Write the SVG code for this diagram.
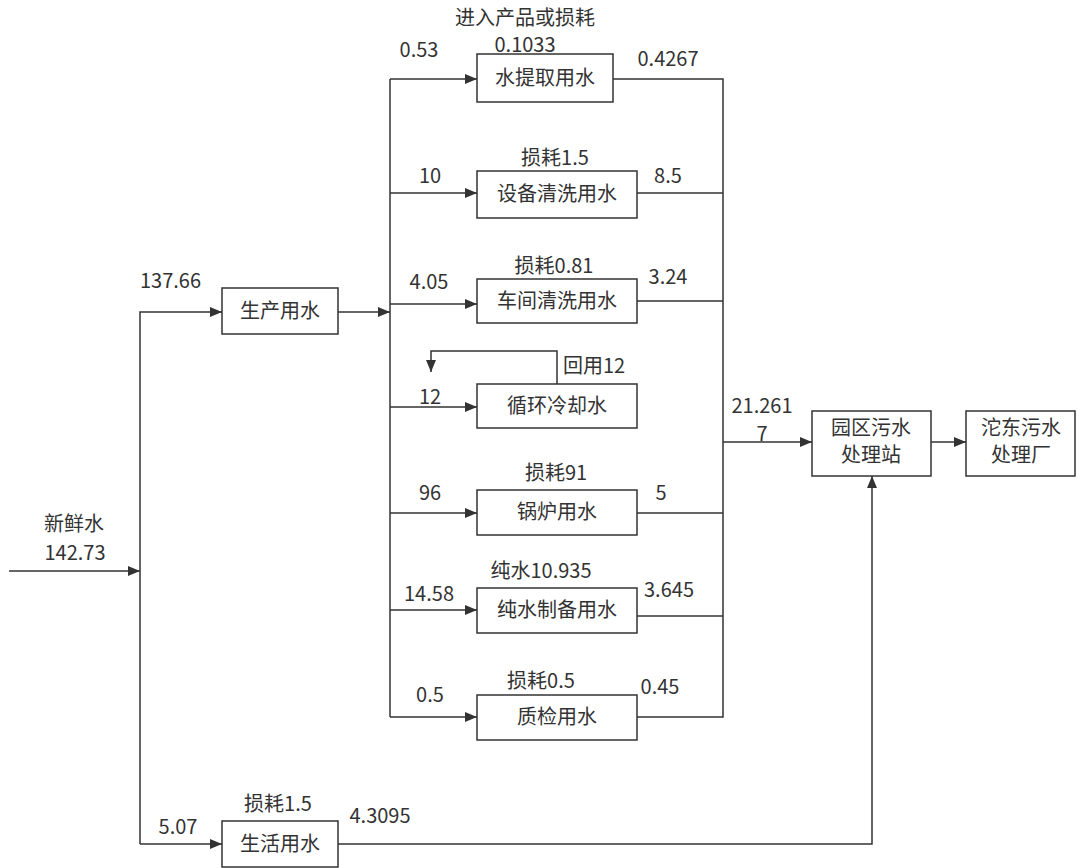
<svg xmlns="http://www.w3.org/2000/svg" width="1078" height="868" viewBox="0 0 1078 868">
<style>
text{font-family:"Noto Sans CJK SC","Noto Sans",sans-serif;font-size:20px;fill:#333;text-anchor:middle}
.l{text-anchor:start}
rect{fill:#fff;stroke:#333;stroke-width:1.5}
.c path,.c line{fill:none;stroke:#333;stroke-width:1.5}
</style>
<defs>
<marker id="a" markerUnits="userSpaceOnUse" markerWidth="12" markerHeight="10" refX="12" refY="5" orient="auto"><path d="M0,0 L12,5 L0,10 z" fill="#333"/></marker>
</defs>
<rect width="1078" height="868" fill="#fff" style="stroke:none"/>
<g class="c" id="connectors">
<path d="M9,571 H140" marker-end="url(#a)"/>
<path d="M140,844 V312 H222" marker-end="url(#a)"/>
<path d="M140,844 H222" marker-end="url(#a)"/>
<path d="M338,312 H390" marker-end="url(#a)"/>
<path d="M390,79 V717"/>
<path d="M390,79 H477" marker-end="url(#a)"/>
<path d="M390,193 H477" marker-end="url(#a)"/>
<path d="M390,304 H477" marker-end="url(#a)"/>
<path d="M390,407 H477" marker-end="url(#a)"/>
<path d="M390,513 H477" marker-end="url(#a)"/>
<path d="M390,610 H477" marker-end="url(#a)"/>
<path d="M390,717 H477" marker-end="url(#a)"/>
<path d="M557,384 V351 H431 V372" marker-end="url(#a)"/>
<path d="M613,79 H723 V717 H637"/>
<path d="M637,193 H723"/>
<path d="M637,301 H723"/>
<path d="M637,513 H723"/>
<path d="M637,616 H723"/>
<path d="M723,442 H812" marker-end="url(#a)"/>
<path d="M931,442 H966" marker-end="url(#a)"/>
<path d="M338,844 H872 V476" marker-end="url(#a)"/>
</g>
<g id="n-fresh"><text x="74" y="531">新鲜水</text><text x="75" y="560">142.73</text></g>
<g id="n-prod"><rect x="222" y="288" width="116" height="46"/><text x="280" y="318">生产用水</text><text class="l" x="140" y="288">137.66</text></g>
<g id="n-live"><rect x="222" y="821" width="116" height="46"/><text x="280" y="851">生活用水</text><text x="178" y="834">5.07</text><text x="278" y="811">损耗1.5</text><text x="380" y="823">4.3095</text></g>
<g id="n-extract"><rect x="477" y="54" width="136" height="48"/><text x="545" y="85">水提取用水</text><text x="525" y="25">进入产品或损耗</text><text x="525" y="52">0.1033</text><text x="419" y="57">0.53</text><text x="668" y="66">0.4267</text></g>
<g id="n-equip"><rect x="477" y="171" width="160" height="47"/><text x="557" y="201">设备清洗用水</text><text x="555" y="165">损耗1.5</text><text x="430" y="183">10</text><text x="668" y="183">8.5</text></g>
<g id="n-shop"><rect x="477" y="279" width="160" height="44"/><text x="557" y="308">车间清洗用水</text><text x="554" y="273">损耗0.81</text><text x="429" y="289">4.05</text><text x="668" y="284">3.24</text></g>
<g id="n-cool"><rect x="477" y="384" width="160" height="44"/><text x="557" y="413">循环冷却水</text><text class="l" x="563" y="373">回用12</text><text x="430" y="404">12</text></g>
<g id="n-boiler"><rect x="477" y="490" width="160" height="45"/><text x="557" y="519">锅炉用水</text><text x="556" y="480">损耗91</text><text x="430" y="500">96</text><text x="661" y="500">5</text></g>
<g id="n-pure"><rect x="477" y="588" width="160" height="45"/><text x="557" y="617">纯水制备用水</text><text x="541" y="578">纯水10.935</text><text x="429" y="601">14.58</text><text x="669" y="597">3.645</text></g>
<g id="n-qc"><rect x="477" y="695" width="160" height="45"/><text x="557" y="724">质检用水</text><text x="541" y="688">损耗0.5</text><text x="430" y="702">0.5</text><text x="660" y="694">0.45</text></g>
<g id="n-park"><rect x="812" y="411" width="119" height="65"/><text x="871" y="435">园区污水</text><text x="871" y="462">处理站</text><text x="762" y="413">21.261</text><text x="762" y="441">7</text></g>
<g id="n-tuodong"><rect x="966" y="411" width="109" height="65"/><text x="1021" y="435">沱东污水</text><text x="1021" y="462">处理厂</text></g>
</svg>
